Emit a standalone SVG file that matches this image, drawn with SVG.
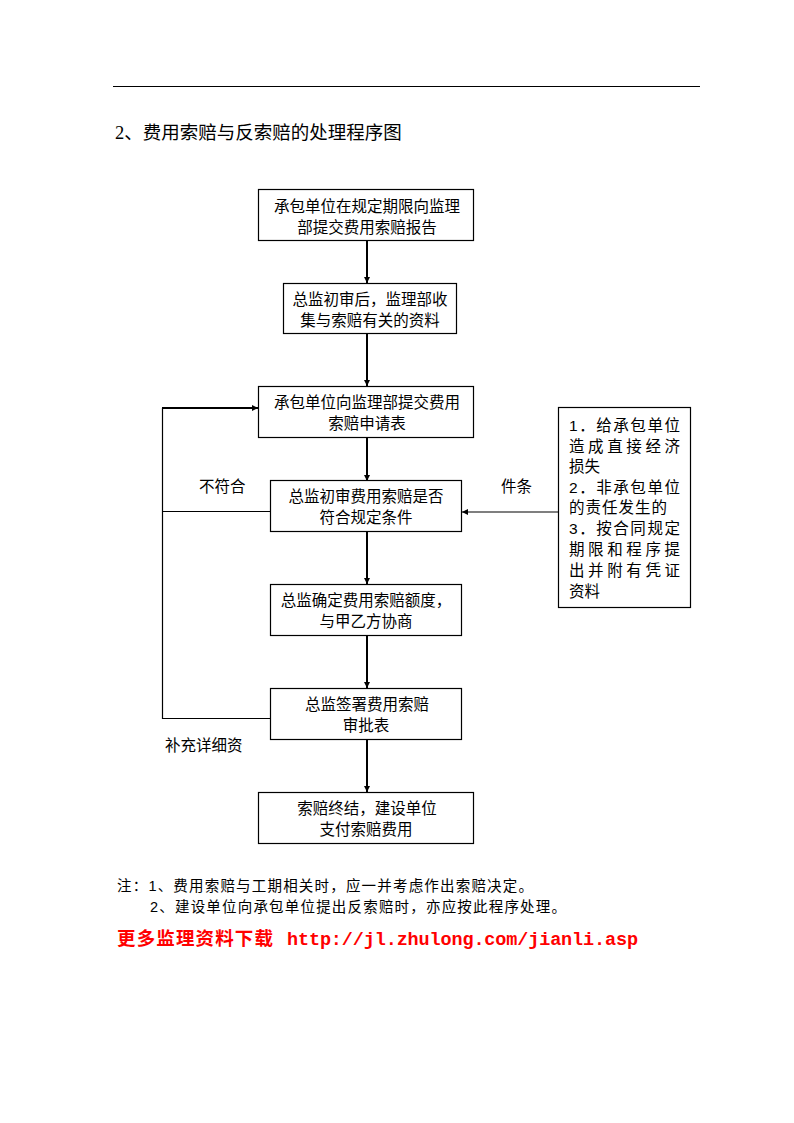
<svg xmlns="http://www.w3.org/2000/svg" width="794" height="1123" viewBox="0 0 794 1123">
<style>
.bg{fill:#ffffff}
.box{fill:#ffffff;stroke:#000000;stroke-width:1.2}
.t{font-family:"Liberation Sans","Noto Sans CJK SC",sans-serif;font-size:15.5px;fill:#000000}
.c{text-anchor:middle}
.thick{stroke:#000000;stroke-width:2;fill:none}
.thin{stroke:#000000;stroke-width:1.2;fill:none}
.title{font-family:"Liberation Serif","Noto Sans CJK SC",serif;font-size:18.5px;fill:#000000}
.note{font-family:"Liberation Sans","Noto Sans CJK SC",sans-serif;font-size:14.5px;fill:#000000}
.red{font-family:"Liberation Serif","Noto Sans CJK SC",serif;font-size:18.5px;font-weight:bold;fill:#ff0000}
.redm{font-family:"Liberation Mono","Noto Sans CJK SC",monospace;font-size:18.5px;font-weight:bold;fill:#ff0000}
</style>
<defs>
<marker id="ah" markerUnits="userSpaceOnUse" markerWidth="6" markerHeight="6" refX="6" refY="3" orient="auto">
<path d="M0,0 L6,3 L0,6 Z" fill="#000000"/>
</marker>
</defs>
<rect class="bg" x="0" y="0" width="794" height="1123"/>
<line x1="113" y1="86.5" x2="700" y2="86.5" stroke="#000000" stroke-width="1.2"/>
<text class="title" x="115" y="139">2、费用索赔与反索赔的处理程序图</text>

<g id="connectors">
<line class="thick" x1="367" y1="241" x2="367" y2="283" marker-end="url(#ah)"/>
<line class="thick" x1="367" y1="334" x2="367" y2="386" marker-end="url(#ah)"/>
<line class="thick" x1="367" y1="438" x2="367" y2="481" marker-end="url(#ah)"/>
<line class="thick" x1="367" y1="532" x2="367" y2="584" marker-end="url(#ah)"/>
<line class="thick" x1="367" y1="636" x2="367" y2="688" marker-end="url(#ah)"/>
<line class="thick" x1="367" y1="740" x2="367" y2="792" marker-end="url(#ah)"/>
<polyline class="thin" points="270,718.5 162.5,718.5 162.5,408"/>
<line class="thick" x1="162" y1="408" x2="258" y2="408" marker-end="url(#ah)"/>
<line class="thin" x1="162.5" y1="511.5" x2="270" y2="511.5"/>
<line class="thin" x1="558" y1="512" x2="462" y2="512" marker-end="url(#ah)"/>
</g>

<g id="n1">
<rect class="box" x="258.5" y="189.5" width="215" height="51"/>
<text class="t c" x="367" y="212">承包单位在规定期限向监理</text>
<text class="t c" x="367" y="233">部提交费用索赔报告</text>
</g>
<g id="n2">
<rect class="box" x="283.5" y="283.5" width="173" height="50"/>
<text class="t c" x="370" y="305">总监初审后，监理部收</text>
<text class="t c" x="370" y="326">集与索赔有关的资料</text>
</g>
<g id="n3">
<rect class="box" x="258.5" y="386.5" width="215" height="51"/>
<text class="t c" x="367" y="408">承包单位向监理部提交费用</text>
<text class="t c" x="367" y="429">索赔申请表</text>
</g>
<g id="n4">
<rect class="box" x="270.5" y="480.5" width="191" height="51"/>
<text class="t c" x="366" y="502">总监初审费用索赔是否</text>
<text class="t c" x="366" y="523">符合规定条件</text>
</g>
<g id="n5">
<rect class="box" x="270.5" y="584.5" width="191" height="51"/>
<text class="t c" x="366" y="606">总监确定费用索赔额度，</text>
<text class="t c" x="366" y="627">与甲乙方协商</text>
</g>
<g id="n6">
<rect class="box" x="270.5" y="688.5" width="191" height="51"/>
<text class="t c" x="367" y="710">总监签署费用索赔</text>
<text class="t c" x="366" y="731">审批表</text>
</g>
<g id="n7">
<rect class="box" x="258.5" y="792.5" width="215" height="51"/>
<text class="t c" x="367" y="814">索赔终结，建设单位</text>
<text class="t c" x="366" y="835">支付索赔费用</text>
</g>
<g id="n8">
<rect class="box" x="558.5" y="407.5" width="132" height="200"/>
<text class="t" x="569" y="431" textLength="111" lengthAdjust="spacing">1．给承包单位</text>
<text class="t" x="569" y="452" textLength="111" lengthAdjust="spacing">造成直接经济</text>
<text class="t" x="569" y="472">损失</text>
<text class="t" x="569" y="493" textLength="111" lengthAdjust="spacing">2．非承包单位</text>
<text class="t" x="569" y="513" textLength="98" lengthAdjust="spacing">的责任发生的</text>
<text class="t" x="569" y="534" textLength="111" lengthAdjust="spacing">3．按合同规定</text>
<text class="t" x="569" y="555" textLength="111" lengthAdjust="spacing">期限和程序提</text>
<text class="t" x="569" y="576" textLength="111" lengthAdjust="spacing">出并附有凭证</text>
<text class="t" x="569" y="597">资料</text>
</g>

<g id="labels">
<text class="t" x="199" y="492">不符合</text>
<text class="t" x="165" y="751">补充详细资</text>
<text class="t" x="501" y="492">件条</text>
</g>

<g id="notes">
<text class="note" x="117" y="891" textLength="416" lengthAdjust="spacing">注：1、费用索赔与工期相关时，应一并考虑作出索赔决定。</text>
<text class="note" x="150" y="912" textLength="416" lengthAdjust="spacing">2、建设单位向承包单位提出反索赔时，亦应按此程序处理。</text>
<text class="red" x="117" y="945" textLength="156" lengthAdjust="spacing">更多监理资料下载</text>
<text class="redm" x="287" y="945" textLength="351" lengthAdjust="spacing">http://jl.zhulong.com/jianli.asp</text>
</g>
</svg>
